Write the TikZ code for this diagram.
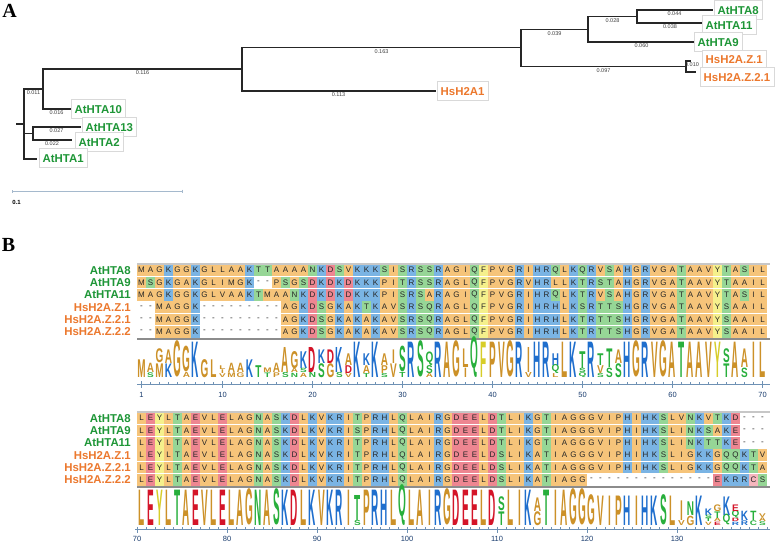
\documentclass[tikz,border=0pt]{standalone}
\usepackage{fontspec}
\setmainfont{Liberation Sans}
\newfontfamily\panelfont{Liberation Serif}
\usepackage{graphicx}
\usetikzlibrary{arrows.meta,positioning}

\definecolor{atgreen}{RGB}{30,150,55}
\definecolor{hsorange}{RGB}{236,120,45}
\definecolor{cellor}{RGB}{246,196,122}
\definecolor{cellbl}{RGB}{122,180,228}
\definecolor{cellgr}{RGB}{150,214,150}
\definecolor{cellrd}{RGB}{238,134,145}
\definecolor{cellyl}{RGB}{245,240,140}
\definecolor{logoor}{RGB}{204,145,40}
\definecolor{logobl}{RGB}{30,110,205}
\definecolor{logogr}{RGB}{40,175,60}
\definecolor{logord}{RGB}{212,20,40}
\definecolor{logoyl}{RGB}{215,205,40}
\definecolor{axisbl}{RGB}{110,145,180}
\definecolor{numbl}{RGB}{25,60,110}
\definecolor{scalebl}{RGB}{165,185,205}

% residue colours (cells c.., logo letters l..)
\colorlet{cA}{cellor}\colorlet{cG}{cellor}\colorlet{cI}{cellor}\colorlet{cL}{cellor}\colorlet{cM}{cellor}\colorlet{cV}{cellor}\colorlet{cP}{cellor}
\colorlet{cK}{cellbl}\colorlet{cR}{cellbl}\colorlet{cH}{cellbl}
\colorlet{cS}{cellgr}\colorlet{cT}{cellgr}\colorlet{cN}{cellgr}\colorlet{cQ}{cellgr}
\colorlet{cD}{cellrd}\colorlet{cE}{cellrd}
\colorlet{cF}{cellyl}\colorlet{cY}{cellyl}\colorlet{cC}{cellrd!60}
\colorlet{cgap}{white}
\colorlet{lA}{logoor}\colorlet{lG}{logoor}\colorlet{lI}{logoor}\colorlet{lL}{logoor}\colorlet{lM}{logoor}\colorlet{lV}{logoor}\colorlet{lP}{logoor}
\colorlet{lK}{logobl}\colorlet{lR}{logobl}\colorlet{lH}{logobl}
\colorlet{lS}{logogr}\colorlet{lT}{logogr}\colorlet{lN}{logogr}\colorlet{lQ}{logogr}
\colorlet{lD}{logord}\colorlet{lE}{logord}
\colorlet{lF}{logoyl}\colorlet{lY}{logoyl}\colorlet{lC}{logogr}

\tikzset{
  branch/.style={line width=1.4pt,black!85,line cap=rect},
  blen/.style={below,inner sep=1.2pt,font=\fontsize{5.5}{6}\selectfont,text=black!75},
  leaf/.style={anchor=west,draw=black!15,fill=white,inner xsep=3.5pt,inner ysep=5.4pt,
               text height=8.2pt,text depth=0pt,font=\bfseries\fontsize{11.4}{12}\selectfont},
  atlab/.style={text=atgreen},
  hslab/.style={text=hsorange},
  rowlab/.style={anchor=east,inner sep=0pt,font=\bfseries\fontsize{11.4}{12}\selectfont},
  res/.style={minimum width=9.3pt,minimum height=11.8pt,inner sep=0pt,
              font=\fontsize{8}{8}\selectfont,text=black!85},
  logo/.style={anchor=south,inner sep=0pt,font=\bfseries\fontsize{10}{10}\selectfont},
  axline/.style={axisbl,line width=0.7pt},
  axtick/.style={axisbl,line width=0.6pt},
  ticklab/.style={font=\fontsize{7.5}{8}\selectfont,text=numbl},
  panel/.style={font=\panelfont\bfseries\fontsize{20}{20}\selectfont},
}

% one alignment row: name, y, residues
\newcommand\seqrow[3]{\def\rowname{#1}\def\rowy{#2}\def\colno{0}\seqstep#3\relax}
\newcommand\seqstep[1]{%
  \ifx\relax#1\else
    \pgfmathtruncatemacro\colno{\colno+1}%
    \def\resid{#1}\ifx-#1\def\resid{gap}\fi
    \node[res,fill=c\resid] (\rowname c\colno) at ({141.5+(\colno-1)*9},\rowy) {#1};%
    \expandafter\seqstep
  \fi}
\def\qletter{Q}

% logo stacks, bottom letter first
\def\logoA{1/{M/18.5},2/{S/4.86,A/9.71},3/{M/14.22,G/14.22},4/{K/14.22,A/14.22},5/{G/37},
  6/{A/5.24,G/26.19},7/{K/37},8/{G/18.5},9/{L/18.5},10/{V/3.9,I/3.9,L/3.9},
  11/{M/4.86,A/9.71},12/{G/4.86,A/9.71},13/{K/18.5},14/{T/12.33},15/{T/4.74,M/4.74},
  16/{P/4.86,A/9.71},17/{S/5.24,A/26.19},18/{N/4.38,A/4.38,G/17.52},19/{A/4.38,S/4.38,K/17.52},
  20/{N/5.24,D/26.19},21/{S/14.22,K/14.22},22/{G/14.22,D/14.22},23/{S/5.24,K/26.19},
  24/{V/4.08,D/8.17,A/12.25},25/{K/37},26/{T/4.08,A/8.17,K/12.25},27/{K/37},
  28/{S/4.08,P/8.17,A/12.25},29/{V/14.22,I/14.22},30/{T/5.24,S/26.19},31/{R/37},32/{S/37},
  33/{A/4.08,S/8.17,Q/12.25},34/{R/37},35/{A/37},36/{G/37},37/{I/9.71,L/19.43},38/{Q/37},
  39/{F/37},40/{P/37},41/{V/37},42/{G/37},43/{R/37},44/{V/5.24,I/26.19},45/{H/37},46/{R/37},
  47/{L/4.08,Q/8.17,H/12.25},48/{L/37},49/{K/37},50/{Q/4.38,S/4.38,T/17.52},51/{R/37},
  52/{S/4.08,V/8.17,T/12.25},53/{S/9.71,T/19.43},54/{S/14.22,A/14.22},55/{H/37},56/{G/37},
  57/{R/37},58/{V/37},59/{G/37},60/{A/37},61/{T/37},62/{A/37},63/{A/37},64/{V/37},65/{Y/37},
  66/{T/14.22,S/14.22},67/{A/37},68/{S/9.71,A/19.43},69/{I/37},70/{L/37}}
\def\logoB{1/{L/37},2/{E/37},3/{Y/37},4/{L/37},5/{T/37},6/{A/37},7/{E/37},8/{V/37},9/{L/37},
  10/{E/37},11/{L/37},12/{A/37},13/{G/37},14/{N/37},15/{A/37},16/{S/37},17/{K/37},18/{D/37},
  19/{L/37},20/{K/37},21/{V/37},22/{K/37},23/{R/37},24/{I/37},25/{S/5.24,T/26.19},26/{P/37},
  27/{R/37},28/{H/37},29/{L/37},30/{Q/37},31/{L/37},32/{A/37},33/{I/37},34/{R/37},35/{G/37},
  36/{D/37},37/{E/37},38/{E/37},39/{L/37},40/{D/37},41/{T/14.22,S/14.22},42/{L/37},43/{I/37},
  44/{K/37},45/{G/14.22,A/14.22},46/{T/37},47/{I/37},48/{A/37},49/{G/37},50/{G/37},
  51/{G/30.83},52/{V/30.83},53/{I/30.83},54/{P/30.83},55/{H/30.83},56/{I/30.83},57/{H/30.83},
  58/{K/30.83},59/{S/30.83},60/{L/30.83},61/{V/5.14,I/20.55},62/{G/9.56,N/14.34},63/{K/30.83},
  64/{V/3.42,T/3.42,S/3.42,K/6.85},65/{E/3.43,A/3.43,T/6.86,G/6.86},66/{Q/9.71,K/19.43},
  67/{R/3.43,D/3.43,Q/6.86,E/6.86},68/{R/4.86,K/9.71},69/{C/4.86,T/9.71},70/{S/3.9,A/3.9,V/3.9}}

\begin{document}
\begin{tikzpicture}[x=1pt,y=-1pt]
  \fill[white] (0,0) rectangle (775,543);
  \useasboundingbox (0,0) rectangle (775,543);

  % panel letters
  \node[panel] (pA) at (9.5,11) {A};
  \node[panel] (pB) at (8.5,244.5) {B};

  % tree: inner nodes and tips
  \coordinate (root0) at (17,124);
  \coordinate (root) at (24,124);
  \coordinate (c1) at (43,89);
  \coordinate (c2) at (33,133.5);
  \coordinate (c3) at (242,69);
  \coordinate (c4) at (521,47.5);
  \coordinate (c5) at (588,29.5);
  \coordinate (c6) at (686,66.5);
  \coordinate (c7) at (637,16.5);
  \coordinate (t10) at (70,109);
  \coordinate (t13) at (80,127);
  \coordinate (t2) at (71,140);
  \coordinate (t1) at (36,159);
  \coordinate (th1) at (435,91);
  \coordinate (t8) at (712,10);
  \coordinate (t11) at (703,23);
  \coordinate (t9) at (695,42);
  \coordinate (tz1) at (690,61);
  \coordinate (tz21) at (695,72);

  % branches
  \draw[branch] (root0) -- (root);
  \draw[branch] (root) |- (c1) node[blen,pos=0.75] {0.011};
  \draw[branch] (root) |- (c2);
  \draw[branch] (root) |- (t1);
  \draw[branch] (c1) |- (c3) node[blen,pos=0.75] {0.116};
  \draw[branch] (c1) |- (t10) node[blen,pos=0.75] {0.016};
  \draw[branch] (c2) |- (t13) node[blen,pos=0.75] {0.027};
  \draw[branch] (c2) |- (t2) node[blen,pos=0.75] {0.022};
  \draw[branch] (c3) |- (c4) node[blen,pos=0.75] {0.163};
  \draw[branch] (c3) |- (th1) node[blen,pos=0.75] {0.113};
  \draw[branch] (c4) |- (c5) node[blen,pos=0.75] {0.039};
  \draw[branch] (c4) |- (c6) node[blen,pos=0.75] {0.097};
  \draw[branch] (c5) |- (c7) node[blen,pos=0.75] {0.028};
  \draw[branch] (c5) |- (t9) node[blen,pos=0.75] {0.060};
  \draw[branch] (c7) |- (t8) node[blen,pos=0.75] {0.044};
  \draw[branch] (c7) |- (t11) node[blen,pos=0.75] {0.038};
  \draw[branch] (c6) |- (tz1) node[blen,pos=0.75,xshift=4pt] {0.010};
  \draw[branch] (c6) |- (tz21);

  % leaf labels
  \node[leaf,atlab] (lt8) at (714,10) {AtHTA8};
  \node[leaf,atlab] (lt11) at (702,25) {AtHTA11};
  \node[leaf,atlab] (lt9) at (694,42) {AtHTA9};
  \node[leaf,hslab] (ltz1) at (702,59.5) {HsH2A.Z.1};
  \node[leaf,hslab] (ltz21) at (700,77) {HsH2A.Z.2.1};
  \node[leaf,hslab] (lth1) at (437,91) {HsH2A1};
  \node[leaf,atlab] (lt10) at (71,109) {AtHTA10};
  \node[leaf,atlab] (lt13) at (82,127) {AtHTA13};
  \node[leaf,atlab] (lt2) at (75,142) {AtHTA2};
  \node[leaf,atlab] (lt1) at (39,158) {AtHTA1};

  % scale bar
  \coordinate (sb0) at (12,191);
  \coordinate (sb1) at (183,191);
  \draw[scalebl,line width=0.8pt,{Bar[width=3pt]}-{Bar[width=3pt]}] (sb0) -- (sb1);
  \node[font=\bfseries\fontsize{6}{6}\selectfont] (sblab) at (16.5,202) {0.1};

  % alignment, positions 1-70
  \node[rowlab,atlab] (ra8) at (131,270.2) {AtHTA8};
  \node[rowlab,atlab] (ra9) at (131,282.5) {AtHTA9};
  \node[rowlab,atlab] (ra11) at (131,294.8) {AtHTA11};
  \node[rowlab,hslab] (rz1) at (131,307.1) {HsH2A.Z.1};
  \node[rowlab,hslab] (rz21) at (131,319.4) {HsH2A.Z.2.1};
  \node[rowlab,hslab] (rz22) at (131,331.7) {HsH2A.Z.2.2};
  \seqrow{pa8}{270.2}{MAGKGGKGLLAAKTTAAAANKDSVKKKSISRSSRAGIQFPVGRIHRQLKQRVSAHGRVGATAAVYTASIL}
  \seqrow{pa9}{282.5}{MSGKGAKGLIMGK--PSGSDKDKDKKKPITRSSRAGLQFPVGRVHRLLKTRSTAHGRVGATAAVYTAAIL}
  \seqrow{pa11}{294.8}{MAGKGGKGLVAAKTMAANKDKDKDKKKPISRSARAGIQFPVGRIHRQLKTRVSAHGRVGATAAVYTASIL}
  \seqrow{pz1}{307.1}{--MAGGK---------AGKDSGKAKTKAVSRSQRAGLQFPVGRIHRHLKSRTTSHGRVGATAAVYSAAIL}
  \seqrow{pz21}{319.4}{--MAGGK---------AGKDSGKAKAKAVSRSQRAGLQFPVGRIHRHLKTRTTSHGRVGATAAVYSAAIL}
  \seqrow{pz22}{331.7}{--MAGGK---------AGKDSGKAKAKAVSRSQRAGLQFPVGRIHRHLKTRTTSHGRVGATAAVYSAAIL}
  \draw[black!22,line width=1.5pt] (137,264) -- (770,264);
  \draw[black!45,line width=2pt] (137,338.5) -- (770,338.5);

  \foreach \c/\stk in \logoA {
    \gdef\ybase{377.5}
    \foreach \l/\h in \stk {
      \pgfmathsetmacro\sy{\h/7.2}
      \ifx\l\qletter \pgfmathsetmacro\sy{\h/8.1}\fi
      \node[logo,text=l\l] (la\c\l) at ({141.5+(\c-1)*9},\ybase) {\scalebox{1}[\sy]{\l}};
      \pgfmathsetmacro\ynext{\ybase-\h}
      \global\let\ybase\ynext
    }
  }

  \draw[axline] (137,384) -- (770,384);
  \foreach \p in {1,...,70}
    \draw[axtick] ({141.5+(\p-1)*9},384) -- ++(0,-2.2);
  \foreach \p in {1,10,20,30,40,50,60,70} {
    \draw[axtick] ({141.5+(\p-1)*9},381) -- ++(0,6.5);
    \node[ticklab] (na\p) at ({141.5+(\p-1)*9},394.5) {\p};
  }

  % alignment, positions 70-140
  \node[rowlab,atlab] (sa8) at (131,418.2) {AtHTA8};
  \node[rowlab,atlab] (sa9) at (131,430.5) {AtHTA9};
  \node[rowlab,atlab] (sa11) at (131,442.8) {AtHTA11};
  \node[rowlab,hslab] (sz1) at (131,455.1) {HsH2A.Z.1};
  \node[rowlab,hslab] (sz21) at (131,467.4) {HsH2A.Z.2.1};
  \node[rowlab,hslab] (sz22) at (131,479.7) {HsH2A.Z.2.2};
  \seqrow{qa8}{418.2}{LEYLTAEVLELAGNASKDLKVKRITPRHLQLAIRGDEELDTLIKGTIAGGGVIPHIHKSLVNKVTKD---}
  \seqrow{qa9}{430.5}{LEYLTAEVLELAGNASKDLKVKRISPRHLQLAIRGDEELDTLIKGTIAGGGVIPHIHKSLINKSAKE---}
  \seqrow{qa11}{442.8}{LEYLTAEVLELAGNASKDLKVKRITPRHLQLAIRGDEELDTLIKGTIAGGGVIPHIHKSLINKTTKE---}
  \seqrow{qz1}{455.1}{LEYLTAEVLELAGNASKDLKVKRITPRHLQLAIRGDEELDSLIKATIAGGGVIPHIHKSLIGKKGQQKTV}
  \seqrow{qz21}{467.4}{LEYLTAEVLELAGNASKDLKVKRITPRHLQLAIRGDEELDSLIKATIAGGGVIPHIHKSLIGKKGQQKTA}
  \seqrow{qz22}{479.7}{LEYLTAEVLELAGNASKDLKVKRITPRHLQLAIRGDEELDSLIKATIAGG--------------EKRRCS}
  \draw[black!22,line width=1.5pt] (137,412) -- (770,412);
  \draw[black!45,line width=2pt] (137,486.5) -- (770,486.5);

  \foreach \c/\stk in \logoB {
    \gdef\ybase{525.5}
    \foreach \l/\h in \stk {
      \pgfmathsetmacro\sy{\h/7.2}
      \ifx\l\qletter \pgfmathsetmacro\sy{\h/8.1}\fi
      \node[logo,text=l\l] (lb\c\l) at ({141.5+(\c-1)*9},\ybase) {\scalebox{1}[\sy]{\l}};
      \pgfmathsetmacro\ynext{\ybase-\h}
      \global\let\ybase\ynext
    }
  }

  \draw[axline] (135,529.5) -- (770,529.5);
  \foreach \p in {0,...,70}
    \draw[axtick] ({137+\p*9},529.5) -- ++(0,-2.2);
  \foreach \p in {70,80,90,100,110,120,130} {
    \draw[axtick] ({137+(\p-70)*9},526.5) -- ++(0,6.5);
    \node[ticklab] (nb\p) at ({137+(\p-70)*9},538.5) {\p};
  }
\end{tikzpicture}
\end{document}
